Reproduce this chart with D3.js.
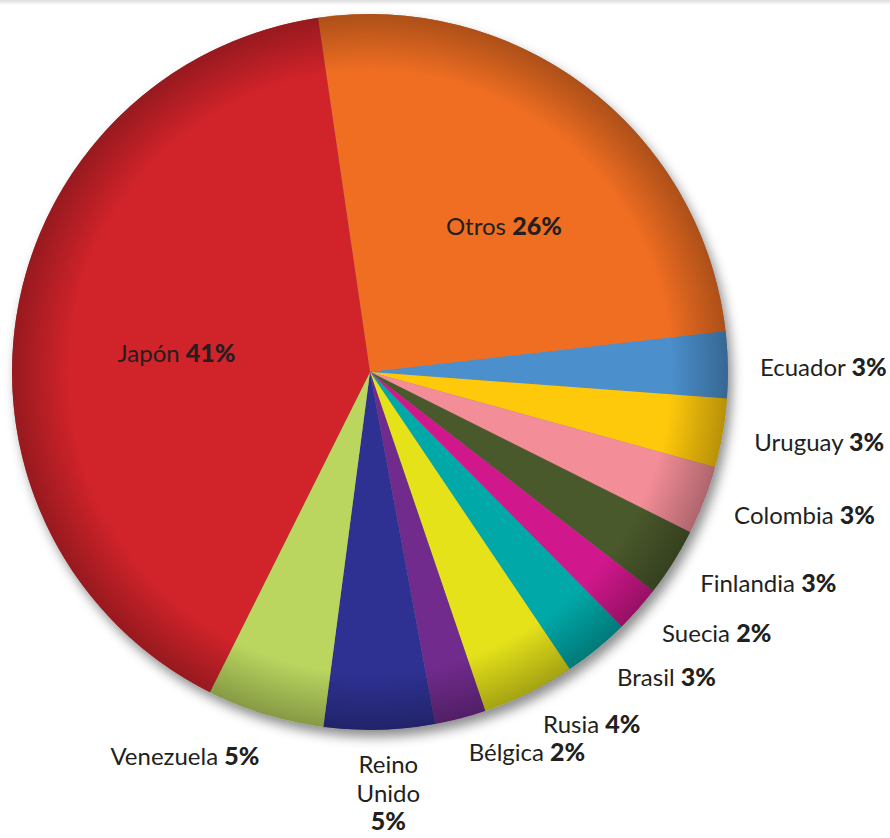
<!DOCTYPE html>
<html>
<head>
<meta charset="utf-8">
<script src="https://cdn.jsdelivr.net/npm/d3@7"></script>
<style>
  body { margin: 0; background: #fff; }
  svg { display: block; }
  .lbl { font-family: Lato, "Open Sans", sans-serif; font-size: 24px; fill: #231f20; }
  .lbl .pct { font-weight: 900; font-size: 25px; }
</style>
</head>
<body>
<div id="chart"></div>
<script>
var width = 890, height = 838;

// country shares (percent), clockwise from "Otros"
var names = ["Otros", "Ecuador", "Uruguay", "Colombia", "Finlandia", "Suecia",
  "Brasil", "Rusia", "Bélgica", "Reino Unido", "Venezuela", "Japón"];
var shares = [25.5, 3.0, 3.1, 3.1, 3.1, 2.1, 3.0, 4.2, 2.3, 5.0, 5.3, 40.3];
var pctLabels = ["26%", "3%", "3%", "3%", "3%", "2%", "3%", "4%", "2%", "5%", "5%", "41%"];
var colors = ["#f06e22", "#4b8fcc", "#ffc90b", "#f38d97", "#4a592b", "#d1178c",
  "#00a9a8", "#e5e21a", "#712b8d", "#2e3192", "#bad65f", "#d1232a"];

var cx = 370, cy = 372, radius = 358;
var startDeg = -8.35;

var svg = d3.select("#chart").append("svg")
  .attr("width", width)
  .attr("height", height);

var defs = svg.append("defs");

// faint shadow strip at the very top
var topGrad = defs.append("linearGradient")
  .attr("id", "topband").attr("x1", 0).attr("y1", 0).attr("x2", 0).attr("y2", 1);
topGrad.append("stop").attr("offset", 0).attr("stop-color", "#dcdcdc");
topGrad.append("stop").attr("offset", 1).attr("stop-color", "#ffffff");
svg.append("rect").attr("x", 0).attr("y", 0)
  .attr("width", width).attr("height", 5)
  .attr("fill", "url(#topband)");

var shadow = defs.append("filter").attr("id", "shadow")
  .attr("x", "-10%").attr("y", "-10%").attr("width", "125%").attr("height", "125%");
shadow.append("feDropShadow")
  .attr("dx", 4).attr("dy", 7).attr("stdDeviation", 6)
  .attr("flood-color", "#000").attr("flood-opacity", 0.45);

var rim = defs.append("radialGradient").attr("id", "rim")
  .attr("cx", "50%").attr("cy", "50%").attr("r", "50%");
rim.append("stop").attr("offset", "84%").attr("stop-color", "#000").attr("stop-opacity", 0);
rim.append("stop").attr("offset", "100%").attr("stop-color", "#000").attr("stop-opacity", 0.28);

var pie = d3.pie()
  .sort(null)
  .value(function (d) { return d; })
  .startAngle(startDeg * Math.PI / 180)
  .endAngle(startDeg * Math.PI / 180 + 2 * Math.PI);

var arcs = pie(shares);

var arc = d3.arc().innerRadius(0).outerRadius(radius);

var g = svg.append("g").attr("transform", "translate(" + cx + "," + cy + ")");

g.append("circle").attr("r", radius).attr("fill", "#888").attr("filter", "url(#shadow)");

g.selectAll("path.slice")
  .data(arcs)
  .enter().append("path")
  .attr("class", "slice")
  .attr("d", arc)
  .attr("fill", function (d, i) { return colors[i]; });

// darker rim to give the disc some depth
g.append("circle").attr("r", radius).attr("fill", "url(#rim)");

var insideArc = d3.arc().innerRadius(200).outerRadius(200);

function polar(a, r) {
  return [r * Math.sin(a), -r * Math.cos(a)];
}

arcs.forEach(function (d, i) {
  var a = (d.startAngle + d.endAngle) / 2;
  var t = g.append("text").attr("class", "lbl");
  if (shares[i] > 10) {
    var c = insideArc.centroid(d);
    t.attr("x", c[0] + (a < Math.PI ? 12 : 4)).attr("y", c[1] + 13).attr("dy", "0.35em")
      .attr("text-anchor", "middle");
    t.append("tspan").text(names[i] + " ");
    t.append("tspan").attr("class", "pct").text(pctLabels[i]);
    return;
  }
  var bottom = Math.abs(a - Math.PI) < 0.15;
  if (bottom) {
    var p = polar(a, 393);
    var lines = names[i].split(" ");
    t.attr("text-anchor", "middle");
    lines.forEach(function (w, k) {
      t.append("tspan").attr("x", p[0] + 8).attr("y", p[1] + k * 29).attr("dy", "0.35em").text(w);
    });
    t.append("tspan").attr("class", "pct")
      .attr("x", p[0] + 8).attr("y", p[1] + lines.length * 29).attr("dy", "0.3em")
      .text(pctLabels[i]);
    return;
  }
  var p2 = polar(a, a < Math.PI ? 390 : 398);
  t.attr("x", p2[0] + (a < Math.PI ? 0 : 6)).attr("y", p2[1]).attr("dy", "0.5em")
    .attr("text-anchor", a < Math.PI ? "start" : "end");
  t.append("tspan").text(names[i] + " ");
  t.append("tspan").attr("class", "pct").text(pctLabels[i]);
});
</script>
</body>
</html>
